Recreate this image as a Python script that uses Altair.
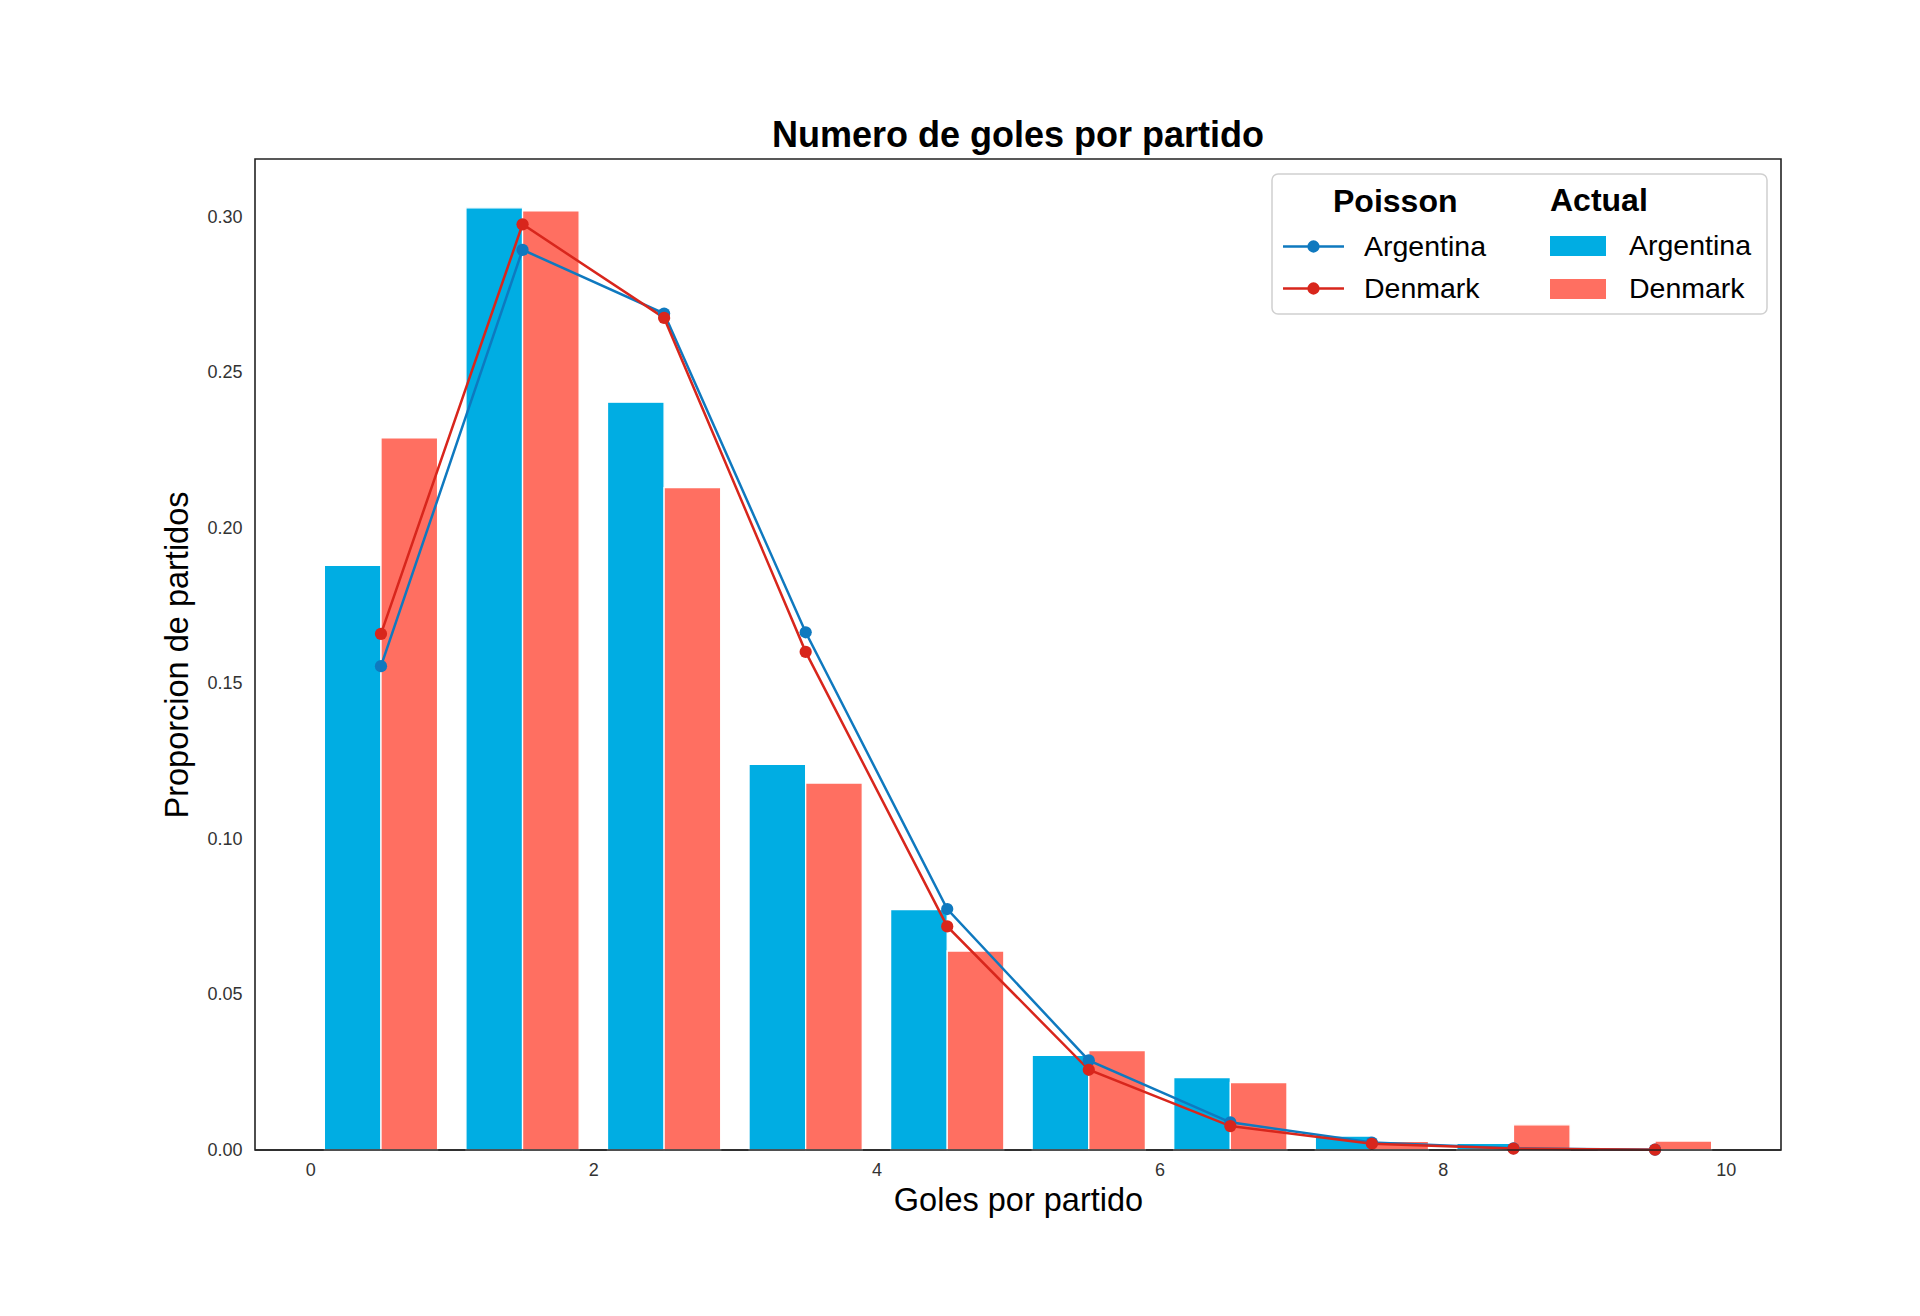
import altair as alt
import pandas as pd

# ---- data ----
goles = [0, 1, 2, 3, 4, 5, 6, 7, 8, 9]
argentina_actual = [0.188, 0.303, 0.2405, 0.124, 0.0773, 0.0304, 0.0233, 0.0045, 0.0021, 0.0006]
denmark_actual = [0.229, 0.302, 0.213, 0.118, 0.064, 0.032, 0.0217, 0.0028, 0.0081, 0.0029]
argentina_poisson = [0.1556, 0.2895, 0.2690, 0.1665, 0.0775, 0.0288, 0.0089, 0.0024, 0.00055, 0.00011]
denmark_poisson = [0.1660, 0.2977, 0.2676, 0.1602, 0.0719, 0.0258, 0.0077, 0.0020, 0.00045, 0.00009]
teams = ["Argentina", "Denmark"]
x_ticks = [0, 2, 4, 6, 8, 10]
y_ticks = [0.0, 0.05, 0.10, 0.15, 0.20, 0.25, 0.30]

bar_colors = ["#00ADE3", "#FF6F61"]
line_colors = ["#0F79BF", "#D8261C"]

bars_df = pd.DataFrame({
    "goles": goles + goles,
    "valor": argentina_actual + denmark_actual,
    "Actual": [teams[0]] * len(goles) + [teams[1]] * len(goles),
})
poisson_df = pd.DataFrame({
    "goles": goles + goles,
    "valor": argentina_poisson + denmark_poisson,
    "Poisson": [teams[0]] * len(goles) + [teams[1]] * len(goles),
})

FONT = "Liberation Sans"

x_scale = alt.Scale(domain=[-0.39, 10.39], nice=False, zero=False)
y_scale = alt.Scale(domain=[0, 0.3187], nice=False, zero=True)

x_axis = alt.Axis(values=x_ticks, format="d", title="Goles por partido", grid=False,
                  ticks=False, domain=False, labelFontSize=18, labelFont=FONT,
                  labelColor="#333333", labelPadding=11, titleFontSize=32.5,
                  titleFont=FONT, titleFontWeight="normal", titleColor="#000000",
                  titlePadding=5, labelFlush=False)
y_axis = alt.Axis(values=y_ticks, format=".2f", title="Proporcion de partidos", grid=False,
                  ticks=False, domain=False, labelFontSize=18, labelFont=FONT,
                  labelColor="#333333", labelPadding=13, titleFontSize=32.5,
                  titleFont=FONT, titleFontWeight="normal", titleColor="#000000",
                  titlePadding=12, labelFlush=False)

bars = alt.Chart(bars_df).transform_calculate(
    x0="datum.goles + (datum.Actual == 'Argentina' ? 0.1 : 0.5)",
    x1="datum.goles + (datum.Actual == 'Argentina' ? 0.5 : 0.9)",
).mark_bar(stroke="white", strokeWidth=1.3).encode(
    x=alt.X("x0:Q", scale=x_scale, axis=x_axis),
    x2="x1:Q",
    y=alt.Y("valor:Q", scale=y_scale, axis=y_axis),
    y2=alt.datum(0),
    fill=alt.Fill("Actual:N", scale=alt.Scale(domain=teams, range=bar_colors),
                  legend=alt.Legend(orient="none", legendX=1295, legendY=27,
                                    title="Actual", titleFontSize=32, titleFont=FONT,
                                    titleFontWeight="bold", titleColor="#000000",
                                    titleAnchor="start", titlePadding=0,
                                    labelFontSize=28.5, labelFont=FONT, labelColor="#000000",
                                    labelOffset=23, symbolType="M-1,-0.36H1V0.36H-1Z",
                                    symbolSize=3136, symbolStrokeWidth=0,
                                    rowPadding=0, padding=0)),
)

# line-with-dot legend glyph (unit = 15.25 px)
circle_path = ("M-2,0H2"
               "M-0.32,0a0.32,0.32 0 1,0 0.64,0a0.32,0.32 0 1,0 -0.64,0"
               "M-0.2,0a0.2,0.2 0 1,0 0.4,0a0.2,0.2 0 1,0 -0.4,0"
               "M-0.08,0a0.08,0.08 0 1,0 0.16,0a0.08,0.08 0 1,0 -0.16,0")

lines = alt.Chart(poisson_df).transform_calculate(
    xp="datum.goles + 0.5"
).mark_line(strokeWidth=2.5, point=alt.OverlayMarkDef(filled=True, size=150)).encode(
    x=alt.X("xp:Q", scale=x_scale, axis=x_axis),
    y=alt.Y("valor:Q", scale=y_scale, axis=y_axis),
    color=alt.Color("Poisson:N", scale=alt.Scale(domain=teams, range=line_colors),
                    legend=alt.Legend(orient="none", legendX=1078, legendY=28,
                                      title="Poisson", titleFontSize=32, titleFont=FONT,
                                      titleFontWeight="bold", titleColor="#000000",
                                      titleAnchor="start", titlePadding=11,
                                      labelFontSize=28.5, labelFont=FONT, labelColor="#000000",
                                      labelOffset=34, symbolOffset=-36,
                                      symbolType=circle_path,
                                      symbolSize=930, symbolStrokeWidth=2.5,
                                      rowPadding=11, padding=0)),
    order=alt.Order("xp:Q"),
)

# bottom spine drawn over the bars
baseline = alt.Chart(pd.DataFrame({"k": [0]})).mark_rule(
    color="#222222", strokeWidth=1.6
).encode(y=alt.datum(0))

frame = alt.Chart(pd.DataFrame({"k": [0]})).mark_rect(
    fill="white", stroke="#D0D0D0", strokeWidth=1.5, cornerRadius=6
).encode(
    x=alt.value(1017), x2=alt.value(1512), y=alt.value(15), y2=alt.value(155)
)

chart = alt.layer(bars, lines, baseline, frame).resolve_scale(
    color="independent", fill="independent"
).properties(
    width=1526,
    height=991,
    background="white",
    autosize=alt.AutoSizeParams(type="none"),
    padding={"left": 247, "top": 151, "right": 131, "bottom": 158},
    title=alt.TitleParams("Numero de goles por partido", fontSize=36, fontWeight="bold",
                          font=FONT, color="#000000", anchor="middle", offset=4),
).configure_view(
    stroke="#222222", strokeWidth=1.6
)

chart.save("out.html", embed_options={"renderer": "svg", "actions": False})
